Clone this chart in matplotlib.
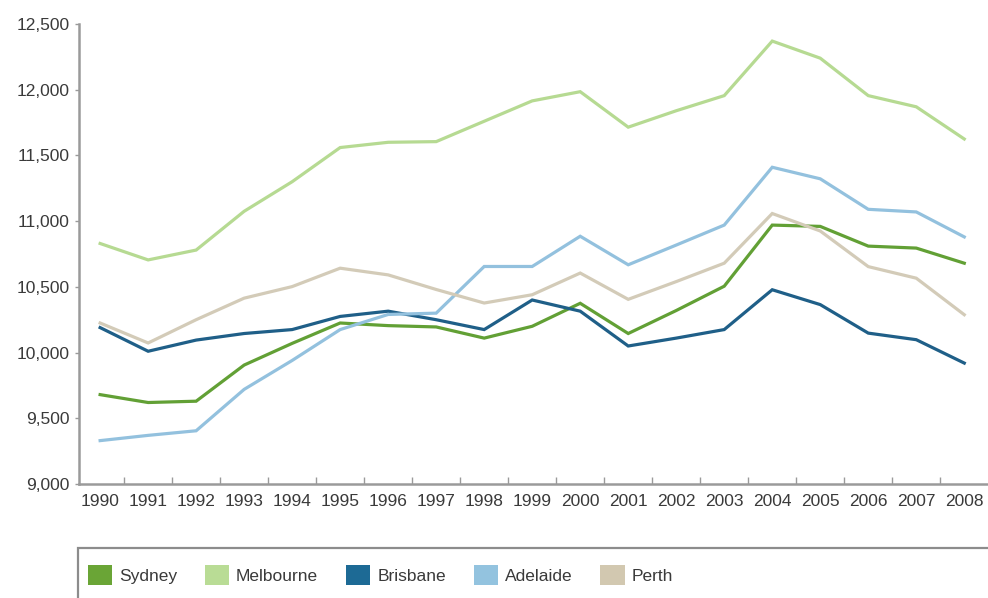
import matplotlib
matplotlib.use("Agg")
import matplotlib.pyplot as plt
from matplotlib.patches import Patch, Rectangle
from matplotlib.ticker import FuncFormatter, FixedLocator

years = [str(y) for y in range(1990, 2009)]
sydney = [9680, 9620, 9630, 9905, 10070, 10225, 10205, 10195, 10110, 10200,
          10375, 10145, 10320, 10505, 10970, 10960, 10810, 10795, 10680]
melbourne = [10830, 10705, 10780, 11075, 11300, 11560, 11600, 11605, 11760, 11915,
             11985, 11715, 11840, 11955, 12370, 12240, 11955, 11870, 11625]
brisbane = [10190, 10010, 10095, 10145, 10175, 10275, 10315, 10250, 10175, 10400,
            10315, 10050, 10110, 10175, 10478, 10365, 10148, 10098, 9920]
adelaide = [9330, 9370, 9405, 9720, 9940, 10175, 10290, 10300, 10655, 10655,
            10885, 10668, 10818, 10970, 11410, 11322, 11090, 11070, 10880]
perth = [10225, 10073, 10250, 10414, 10502, 10642, 10591, 10480, 10377, 10440,
         10605, 10405, 10540, 10680, 11058, 10925, 10654, 10566, 10288]

series_names = ["Sydney", "Melbourne", "Brisbane", "Adelaide", "Perth"]
series_values = [sydney, melbourne, brisbane, adelaide, perth]
line_colors = ["#62a035", "#b6da92", "#1f5f88", "#93c1de", "#d3cbb8"]
patch_colors = ["#6aa536", "#b9dc95", "#1d6a95", "#93c3df", "#d2c8b0"]
y_ticks = [9000, 9500, 10000, 10500, 11000, 11500, 12000, 12500]

plt.rcParams['font.family'] = ['Liberation Sans', 'DejaVu Sans']

W, H = 988, 598
fig = plt.figure(figsize=(W / 100, H / 100), dpi=100)
ax = fig.add_axes([79 / W, 1 - 484 / H, 1 - 79 / W + 0.01, (484 - 24) / H])

x = list(range(len(years)))
for name, vals, col in zip(series_names, series_values, line_colors):
    ax.plot(x, vals, color=col, lw=2.3, solid_joinstyle='miter', label=name)

ax.set_ylim(9000, 12500)
ax.set_xlim(-0.44, 18.7)
ax.set_yticks(y_ticks)
ax.yaxis.set_major_formatter(FuncFormatter(lambda v, p: f"{int(v):,}"))
ax.set_xticks(x)
ax.set_xticklabels(years)
ax.xaxis.set_minor_locator(FixedLocator([i + 0.5 for i in range(len(years) - 1)]))

for s in ['top', 'right']:
    ax.spines[s].set_visible(False)
for s in ['left', 'bottom']:
    ax.spines[s].set_color('#9a9a9a')
    ax.spines[s].set_linewidth(1.8)

ax.tick_params(axis='x', which='major', length=0, pad=7, labelsize=12.5, labelcolor='#3a3a3a')
ax.tick_params(axis='x', which='minor', direction='in', length=5, width=1, color='#9a9a9a')
ax.tick_params(axis='y', which='major', direction='out', length=3, width=1, color='#9a9a9a',
               pad=4, labelsize=12.5, labelcolor='#3a3a3a')

# legend box
fig.patches.append(Rectangle((78 / W, -0.1), 1.0, 0.1 + (1 - 548 / H), transform=fig.transFigure,
                             facecolor='white', edgecolor='#8c8c8c', lw=1.6))
handles = [Patch(facecolor=c, edgecolor='none') for c in patch_colors]
fig.legend(handles, series_names, loc='center left', bbox_to_anchor=(79 / W, 1 - 575 / H),
           ncol=5, frameon=False, fontsize=12.5, handlelength=1.4, handleheight=1.4,
           handletextpad=0.4, columnspacing=1.6, labelcolor='#3a3a3a', borderpad=0)

fig.savefig("out.png", dpi=100)
